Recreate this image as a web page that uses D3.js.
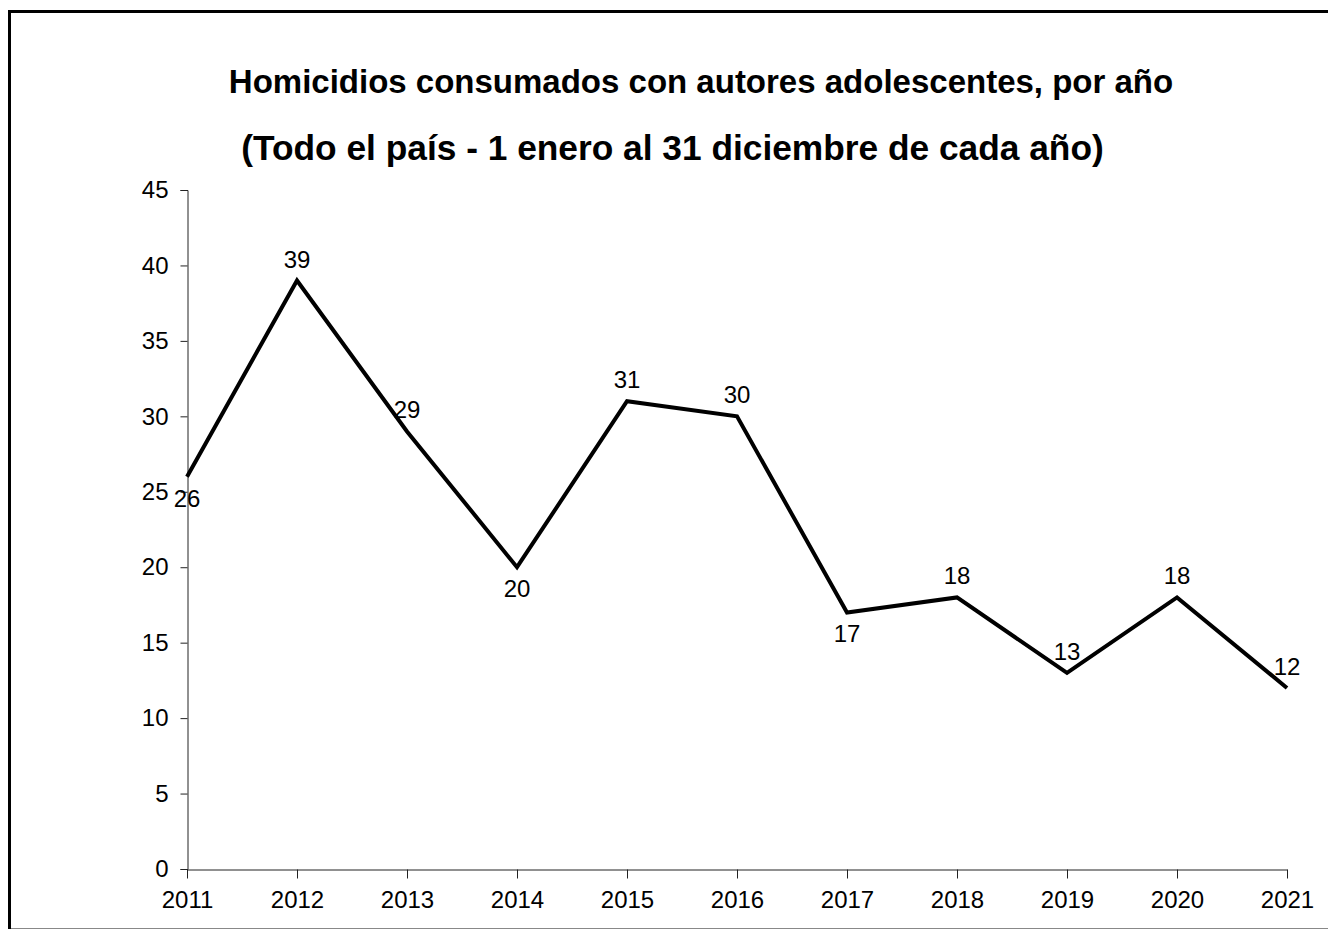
<!DOCTYPE html>
<html>
<head>
<meta charset="utf-8">
<script src="https://cdn.jsdelivr.net/npm/d3@7"></script>
<style>
  html, body { margin: 0; padding: 0; background: #fff; }
  svg { display: block; }
  text { font-family: "Liberation Sans", Arial, sans-serif; }
</style>
</head>
<body>
<svg id="chart" width="1328" height="929"></svg>
<script>
const years = [2011, 2012, 2013, 2014, 2015, 2016, 2017, 2018, 2019, 2020, 2021];
const values = [26, 39, 29, 20, 31, 30, 17, 18, 13, 18, 12];
const labelSides = ["below", "above", "above", "below", "above", "above", "below", "above", "above", "above", "above"];
const yTicks = [0, 5, 10, 15, 20, 25, 30, 35, 40, 45];
const titleLines = [
  "Homicidios consumados con autores adolescentes, por año",
  "(Todo el país - 1 enero al 31 diciembre de cada año)"
];

const svg = d3.select("#chart");

// frame
svg.append("line").attr("x1", 9.5).attr("x2", 9.5).attr("y1", 10).attr("y2", 929)
  .attr("stroke", "#000").attr("stroke-width", 3);
svg.append("line").attr("x1", 8).attr("x2", 1328).attr("y1", 11.5).attr("y2", 11.5)
  .attr("stroke", "#000").attr("stroke-width", 3);
svg.append("line").attr("x1", 11).attr("x2", 1328).attr("y1", 928.5).attr("y2", 928.5)
  .attr("stroke", "#888").attr("stroke-width", 1);

// titles
svg.append("text").attr("x", 701).attr("y", 93).attr("text-anchor", "middle")
  .attr("font-size", 33).attr("font-weight", "bold").text(titleLines[0]);
svg.append("text").attr("x", 672.5).attr("y", 160).attr("text-anchor", "middle")
  .attr("font-size", 35.3).attr("font-weight", "bold").text(titleLines[1]);

const x = d3.scalePoint().domain(years).range([187, 1287]);
const y = d3.scaleLinear().domain([0, 45]).range([869, 190]);

// y axis
const yAxis = svg.append("g").attr("transform", "translate(187.5,0)")
  .call(d3.axisLeft(y).tickValues(yTicks).tickSize(7).tickPadding(12));
yAxis.select(".domain").attr("stroke", "#222");
yAxis.selectAll(".tick line").attr("stroke", "#222");
yAxis.selectAll("text").attr("font-size", 24).attr("fill", "#000")
  .attr("font-family", "Liberation Sans, Arial, sans-serif");

// x axis
const xAxis = svg.append("g").attr("transform", "translate(0,869.5)")
  .call(d3.axisBottom(x).tickSize(9).tickSizeOuter(0).tickPadding(12));
xAxis.select(".domain").attr("stroke", "#222");
xAxis.selectAll(".tick line").attr("stroke", "#222");
xAxis.selectAll("text").attr("font-size", 24).attr("fill", "#000")
  .attr("font-family", "Liberation Sans, Arial, sans-serif");

// line
const line = d3.line().x((d, i) => x(years[i])).y(d => y(d));
svg.append("path").datum(values).attr("d", line)
  .attr("fill", "none").attr("stroke", "#000").attr("stroke-width", 4)
  .attr("stroke-linejoin", "miter");

// data labels
svg.append("g").selectAll("text").data(values).join("text")
  .attr("x", (d, i) => x(years[i]))
  .attr("y", (d, i) => labelSides[i] === "above" ? y(d) - 13 : y(d) + 30)
  .attr("text-anchor", "middle")
  .attr("font-size", 24)
  .text(d => d);
</script>
</body>
</html>
